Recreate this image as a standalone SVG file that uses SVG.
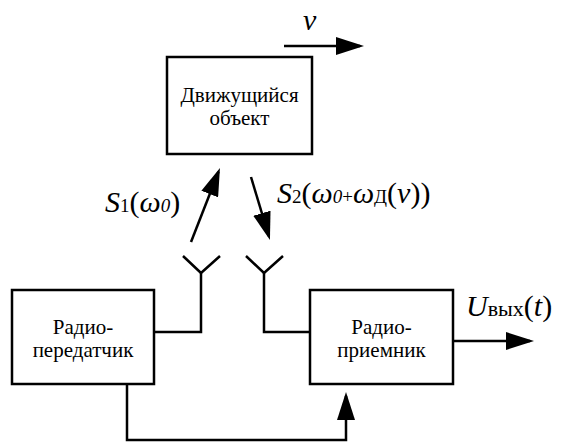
<svg xmlns="http://www.w3.org/2000/svg" width="561" height="442" viewBox="0 0 561 442">
  <style>
    .box { fill: #fff; stroke: #000; stroke-width: 2.5; }
    .wire { fill: none; stroke: #000; stroke-width: 2.5; }
    .lbl { font-size: 21px; text-anchor: middle; }
    .math { font-size: 30px; }
    .it { font-style: italic; }
    .sub { font-size: 19px; }
    .idx { font-size: 22px; }
  </style>
  <defs>
    <marker id="ah" viewBox="0 0 28 18" markerWidth="28" markerHeight="18" refX="24" refY="9" orient="auto" markerUnits="userSpaceOnUse">
      <path d="M0,0 L28,9 L0,18 z" fill="#000"/>
    </marker>
  </defs>

  <g font-family="Liberation Serif, DejaVu Serif, serif" fill="#000">
    <!-- moving object -->
    <g id="object">
      <rect class="box" x="167" y="57" width="145" height="97"/>
      <text class="lbl" x="239.5" y="102">Движущийся</text>
      <text class="lbl" x="239.5" y="125">объект</text>
    </g>

    <!-- transmitter -->
    <g id="transmitter">
      <rect class="box" x="12" y="290" width="142" height="94"/>
      <text class="lbl" x="83" y="334">Радио-</text>
      <text class="lbl" x="83" y="357">передатчик</text>
    </g>

    <!-- receiver -->
    <g id="receiver">
      <rect class="box" x="310" y="290" width="143" height="94"/>
      <text class="lbl" x="381.5" y="334">Радио-</text>
      <text class="lbl" x="381.5" y="357">приемник</text>
    </g>

    <!-- labels -->
    <text class="math it" x="303" y="30">v</text>
    <text class="math" x="105" y="212"><tspan class="it">S</tspan><tspan class="sub">1</tspan>(<tspan class="it">ω</tspan><tspan class="sub it">0</tspan>)</text>
    <text class="math" x="277" y="203"><tspan class="it">S</tspan><tspan class="sub">2</tspan>(<tspan class="it">ω</tspan><tspan class="sub it">0</tspan><tspan class="sub">+</tspan><tspan class="it">ω</tspan><tspan class="sub">Д</tspan>(<tspan class="it">v</tspan>))</text>
    <text class="math" x="466" y="316"><tspan class="it">U</tspan><tspan class="idx">вых</tspan>(<tspan class="it">t</tspan>)</text>
  </g>

  <!-- antennas -->
  <g id="tx-antenna">
    <path class="wire" d="M183,256 L201,273 L220,256"/>
  </g>
  <g id="rx-antenna">
    <path class="wire" d="M246,256 L264,273 L283,256"/>
  </g>

  <g id="connectors">
    <!-- velocity -->
    <path class="wire" d="M284,46 H360" marker-end="url(#ah)"/>
    <!-- feeders -->
    <path class="wire" d="M154,332 H201 V273"/>
    <path class="wire" d="M310,332 H264 V273"/>
    <!-- emitted and reflected signals -->
    <path class="wire" d="M191,242 L218.5,171.7" marker-end="url(#ah)"/>
    <path class="wire" d="M251,177 L268.8,236.2" marker-end="url(#ah)"/>
    <!-- reference link -->
    <path class="wire" d="M127,384 V440 H346 V396" marker-end="url(#ah)"/>
    <!-- output -->
    <path class="wire" d="M453,341 H530" marker-end="url(#ah)"/>
  </g>
</svg>
